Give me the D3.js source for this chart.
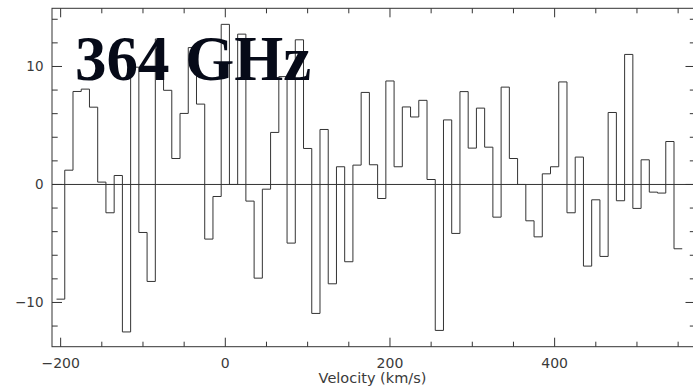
<!DOCTYPE html>
<html>
<head>
<meta charset="utf-8">
<script src="https://cdn.jsdelivr.net/npm/d3@7"></script>
<style>
  html, body { margin: 0; padding: 0; background: #fff; }
  svg { display: block; }
</style>
</head>
<body>
<svg id="chart" width="693" height="390"></svg>
<script>
// Channel centre velocities (km/s), 10 km/s channels
const velocity = [-200, -190, -180, -170, -160, -150, -140, -130, -120, -110,
  -100, -90, -80, -70, -60, -50, -40, -30, -20, -10,
  0, 10, 20, 30, 40, 50, 60, 70, 80, 90,
  100, 110, 120, 130, 140, 150, 160, 170, 180, 190,
  200, 210, 220, 230, 240, 250, 260, 270, 280, 290,
  300, 310, 320, 330, 340, 350, 360, 370, 380, 390,
  400, 410, 420, 430, 440, 450, 460, 470, 480, 490,
  500, 510, 520, 530, 540, 550];
// Flux density per channel
const flux = [-9.72, 1.21, 7.88, 8.08, 6.55, 0.20, -2.40, 0.76, -12.5, 9.94,
  -4.07, -8.22, 12.33, 7.98, 2.20, 6.02, 11.6, 6.81, -4.63, -1.02,
  13.57, 0.0, 12.74, -1.41, -7.94, -0.40, 4.41, 9.14, -4.97, 12.26,
  3.05, -10.93, 4.66, -8.42, 1.50, -6.55, 1.64, 7.80, 1.67, -1.19,
  8.77, 1.50, 6.57, 5.72, 7.13, 0.42, -12.37, 5.47, -4.15, 7.87,
  3.08, 6.47, 3.16, -2.77, 8.25, 2.20, 0.0, -3.08, -4.44, 0.90,
  1.50, 8.69, -2.40, 2.32, -6.92, -1.30, -6.10, 6.10, -1.38, 11.02,
  -2.03, 2.09, -0.65, -0.73, 3.64, -5.45];
const channelWidth = 10;
const xMajorTicks = [-200, 0, 200, 400];
const xMajorLabels = ["\u2212200", "0", "200", "400"];
const xMinorTicks = [-200, -150, -100, -50, 0, 50, 100, 150, 200, 250, 300, 350, 400, 450, 500, 550];
const yMajorTicks = [-10, 0, 10];
const yMajorLabels = ["\u221210", "0", "10"];
const yMinorTicks = [-12, -10, -8, -6, -4, -2, 0, 2, 4, 6, 8, 10, 12, 14];
const xTitle = "Velocity (km/s)";
const bigLabel = "364 GHz";

const L = 52, R = 695.5, T = 8.3, B = 346.7;
const x = d3.scaleLinear().domain([-210.5, 571.1]).range([L, R]);
const y = d3.scaleLinear().domain([-13.75, 14.93]).range([B, T]);

const svg = d3.select("#chart");
const ink = "#333";

svg.append("clipPath").attr("id", "clip")
  .append("rect").attr("x", L).attr("y", T).attr("width", R - L).attr("height", B - T);

// frame
svg.append("rect").attr("x", L).attr("y", T).attr("width", R - L).attr("height", B - T)
  .attr("fill", "none").attr("stroke", ink).attr("stroke-width", 1);

// zero line
svg.append("line").attr("x1", L).attr("x2", R).attr("y1", y(0)).attr("y2", y(0))
  .attr("stroke", ink).attr("stroke-width", 1);

// ticks
const tg = svg.append("g").attr("stroke", ink).attr("stroke-width", 1);
xMinorTicks.forEach(v => {
  const len = xMajorTicks.includes(v) ? 9 : 5;
  tg.append("line").attr("x1", x(v)).attr("x2", x(v)).attr("y1", B).attr("y2", B - len);
  tg.append("line").attr("x1", x(v)).attr("x2", x(v)).attr("y1", T).attr("y2", T + len);
});
yMinorTicks.forEach(v => {
  const len = yMajorTicks.includes(v) ? 10 : 5.7;
  tg.append("line").attr("x1", L).attr("x2", L + len).attr("y1", y(v)).attr("y2", y(v));
  tg.append("line").attr("x1", R).attr("x2", R - len).attr("y1", y(v)).attr("y2", y(v));
});

// tick labels
const font = "'DejaVu Sans', sans-serif";
xMajorTicks.forEach((v, i) => {
  svg.append("text").attr("x", x(v)).attr("y", 368.3).attr("text-anchor", "middle")
    .attr("font-family", font).attr("font-size", 14).attr("fill", "#3a3a3a")
    .text(xMajorLabels[i]);
});
yMajorTicks.forEach((v, i) => {
  svg.append("text").attr("x", 43.5).attr("y", y(v)).attr("dy", "0.36em").attr("text-anchor", "end")
    .attr("font-family", font).attr("font-size", 13.5).attr("fill", "#3a3a3a")
    .text(yMajorLabels[i]);
});
svg.append("text").attr("x", (L + 693) / 2).attr("y", 383.3).attr("text-anchor", "middle")
  .attr("font-family", font).attr("font-size", 14.5).attr("fill", "#3a3a3a")
  .text(xTitle);

// spectrum as step line
const pts = velocity.map((v, i) => [v - channelWidth / 2, flux[i]]);
pts.push([velocity[velocity.length - 1] + channelWidth / 2, flux[flux.length - 1]]);
const line = d3.line().x(d => x(d[0])).y(d => y(d[1])).curve(d3.curveStepAfter);
svg.append("path").attr("d", line(pts)).attr("clip-path", "url(#clip)")
  .attr("fill", "none").attr("stroke", ink).attr("stroke-width", 1);

// big label
svg.append("text").attr("x", 75).attr("y", 80)
  .attr("font-family", "'Liberation Serif', 'Times New Roman', serif")
  .attr("font-weight", "bold").attr("font-size", 63).attr("fill", "#060a18")
  .text(bigLabel);
</script>
</body>
</html>
